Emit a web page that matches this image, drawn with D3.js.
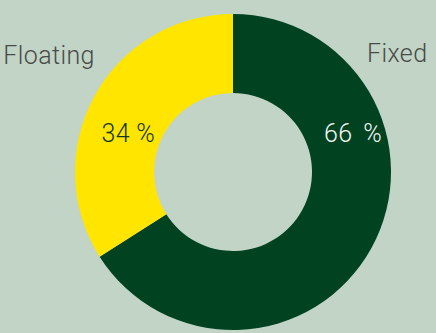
<!DOCTYPE html>
<html>
<head>
<meta charset="utf-8">
<script src="https://cdn.jsdelivr.net/npm/d3@7"></script>
<style>
  html, body { margin: 0; padding: 0; background: #c2d4c6; }
  svg { display: block; }
  text { font-family: Roboto, "Open Sans", sans-serif; font-weight: 300; }
</style>
</head>
<body>
<svg id="chart" width="436" height="333"></svg>
<script>
// Share of rates by type
const categories = ["Fixed", "Floating"];
const shares = [66, 34];
const sliceColors = ["#014321", "#ffe500"];
const valueColors = ["#f4f6f4", "#12361c"];

const width = 436, height = 333;
const cx = 233, cy = 172;
const outerR = 158, innerR = 79;

const svg = d3.select("#chart");
svg.append("rect").attr("width", width).attr("height", height).attr("fill", "#c2d4c6");

const data = categories.map((c, i) => ({ name: c, value: shares[i], color: sliceColors[i], textColor: valueColors[i] }));

const pie = d3.pie().value(d => d.value).sort(null);
const arc = d3.arc().innerRadius(innerR).outerRadius(outerR);

const g = svg.append("g").attr("transform", `translate(${cx},${cy})`);
const arcs = pie(data);

g.selectAll("path.slice")
  .data(arcs)
  .join("path")
  .attr("class", "slice")
  .attr("d", arc)
  .attr("fill", d => d.data.color);

// value labels inside the ring
const valuePos = { Fixed: [120, -30], Floating: [-104.7, -30] };
const valueGap = { Fixed: 4.5, Floating: 0 };
g.selectAll("text.value")
  .data(arcs)
  .join("text")
  .attr("class", "value")
  .attr("x", d => valuePos[d.data.name][0])
  .attr("y", d => valuePos[d.data.name][1])
  .attr("text-anchor", "middle")
  .attr("font-size", 25)
  .attr("letter-spacing", 0.3)
  .attr("fill", d => d.data.textColor)
  .each(function(d) {
    const t = d3.select(this);
    t.append("tspan").text(d.data.value + " ");
    t.append("tspan").attr("dx", valueGap[d.data.name]).text("%");
  });

// category names outside the ring
const namePos = { Fixed: [427.5, 62.3, "end"], Floating: [3.3, 64.3, "start"] };
svg.selectAll("text.name")
  .data(data)
  .join("text")
  .attr("class", "name")
  .attr("x", d => namePos[d.name][0])
  .attr("y", d => namePos[d.name][1])
  .attr("text-anchor", d => namePos[d.name][2])
  .attr("font-size", 25)
  .attr("letter-spacing", 0.4)
  .attr("fill", "#474b48")
  .text(d => d.name);
</script>
</body>
</html>
